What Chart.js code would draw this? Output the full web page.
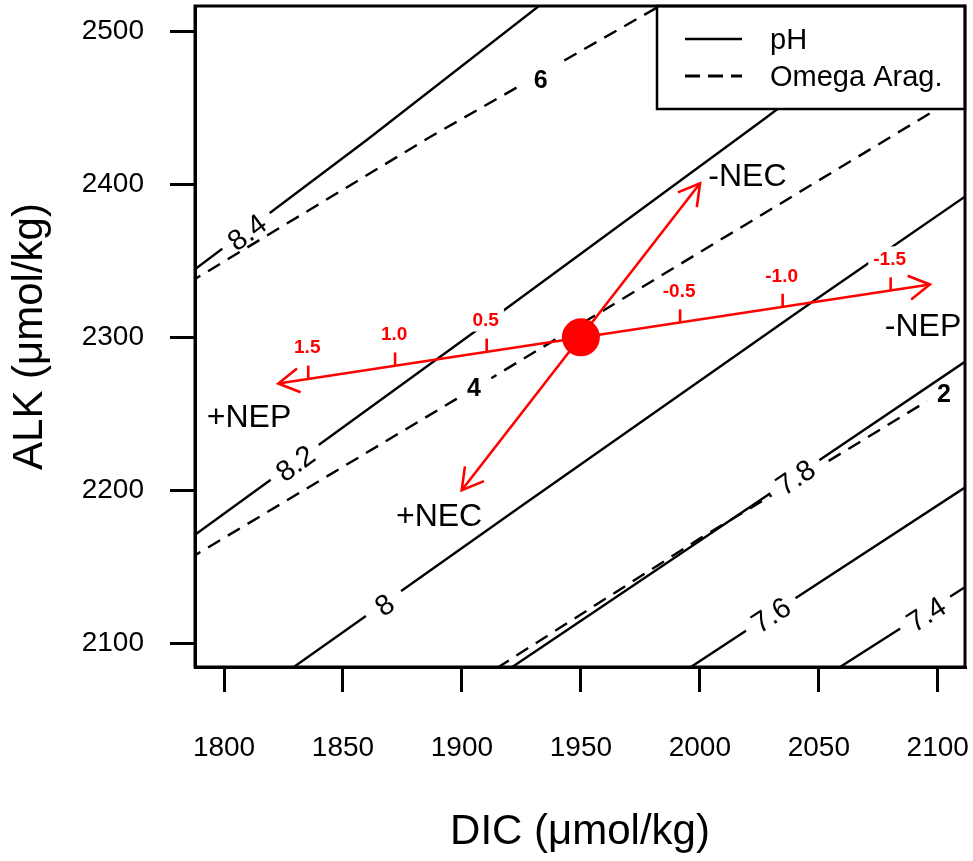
<!DOCTYPE html>
<html>
<head>
<meta charset="utf-8">
<title>DIC - ALK</title>
<script src="https://cdn.jsdelivr.net/npm/chart.js@4.4.1/dist/chart.umd.min.js"></script>
<style>
  html, body { margin: 0; padding: 0; background: #fff; }
  #box { width: 973px; height: 861px; }
</style>
</head>
<body>
<div id="box"><canvas id="chart" width="973" height="861"></canvas></div>
<script>
'use strict'

const FONT = "'Liberation Sans', Arial, sans-serif";

// 軸の範囲と目盛り
const xRange = [1787.8, 2111.45];
const yRange = [2084.3, 2516.8];
const xTicks = [1800, 1850, 1900, 1950, 2000, 2050, 2100];
const yTicks = [2100, 2200, 2300, 2400, 2500];

// pH 等値線 [DIC, ALK]
const ph84 = [[1785, 2341.2], [1860.0, 2429.1], [1935.0, 2520]];
const ph82 = [[1785, 2167.6], [1906.2, 2304.7], [2026.5, 2442.2], [2091.3, 2518]];
const ph80 = [[1825.6, 2080.2], [1924.4, 2189.0], [2046.3, 2322.2], [2111.4, 2392.0], [2116, 2397]];
const ph78 = [[1917.9, 2080.9], [2029.5, 2197.8], [2111.4, 2284.0], [2116, 2288.8]];
const ph76 = [[1992.9, 2080.9], [2040.0, 2129.1], [2111.4, 2201.7], [2116, 2206.4]];
const ph74 = [[2055.5, 2080.9], [2111.4, 2136.5], [2116, 2141]];
const phNames = ['8.4', '8.2', '8', '7.8', '7.6', '7.4'];
const phLabelPos = [[1809.5, 2369.1], [1829.8, 2218.0], [1867.3, 2125.2], [2040.0, 2208.7], [2029.8, 2118.7], [2095.0, 2119.2]];

// Omega Arag. 等値線
const om6 = [[1785, 2335.5], [1886.6, 2431.1], [1985.4, 2518.8]];
const om4 = [[1785, 2154.8], [1913.2, 2274.1], [2096.7, 2446.6], [2122, 2470.3]];
const om2 = [[1906.6, 2075.6], [2000.1, 2168.5], [2050.5, 2215.7], [2111.4, 2273.3], [2116, 2277.6]];
const omNames = ['6', '4', '2'];
const omLabelPos = [[1933.1, 2469.3], [1905.1, 2267.2], [2102.6, 2263.3]];

// NEP / NEC ベクトル
const origin = [1950, 2300];
const nepLine = [[1822.8, 2269.8], [2096.7, 2334.6]];
const necLine = [[1899.9, 2200.0], [2000.1, 2400.8]];
const nepTickDic = [1835.4, 1871.9, 1910.4, 1991.7, 2034.8, 2080.2];
const nepTickAlk = [2273.0, 2281.6, 2290.7, 2309.8, 2320.0, 2330.7];
const nepTickText = ['1.5', '1.0', '0.5', '-0.5', '-1.0', '-1.5'];
const vecNames = ['+NEP', '-NEP', '+NEC', '-NEC'];
const vecNamePos = [[1810.5, 2249.1], [2093.8, 2308.6], [1890.4, 2184.3], [2020.0, 2406.8]];

const phLines = [ph84, ph82, ph80, ph78, ph76, ph74];
const omLines = [om6, om4, om2];

function toPoints(arr) {
    return arr.map(p => ({x: p[0], y: p[1]}));
}

function contourDataset(arr, dashed) {
    return {
        data: toPoints(arr),
        showLine: true,
        borderColor: '#000',
        borderWidth: 2.4,
        borderDash: dashed ? [14, 9] : [],
        pointRadius: 0,
        clip: 0
    };
}

// 赤の点とベクトルは先頭 (最後に描かれる)
const datasets = [
    { data: toPoints([origin]), pointRadius: 19, pointBackgroundColor: '#ff0000', pointBorderWidth: 0, showLine: false },
    { data: toPoints(nepLine), showLine: true, borderColor: '#ff0000', borderWidth: 2.6, pointRadius: 0 },
    { data: toPoints(necLine), showLine: true, borderColor: '#ff0000', borderWidth: 2.6, pointRadius: 0 }
];
phLines.forEach(l => datasets.push(contourDataset(l, false)));
omLines.forEach(l => datasets.push(contourDataset(l, true)));

function pix(chart, v) {
    return [chart.scales.x.getPixelForValue(v[0]), chart.scales.y.getPixelForValue(v[1])];
}

// 等値線上の位置と傾き
function onLine(chart, line, dic) {
    for (let i = 0; i < line.length - 1; i++) {
        if (dic >= line[i][0] && dic <= line[i + 1][0]) {
            const a = pix(chart, line[i]);
            const b = pix(chart, line[i + 1]);
            const t = (dic - line[i][0]) / (line[i + 1][0] - line[i][0]);
            return { x: a[0] + (b[0] - a[0]) * t, y: a[1] + (b[1] - a[1]) * t, ang: Math.atan2(b[1] - a[1], b[0] - a[0]) };
        }
    }
    return null;
}

function textAt(ctx, text, x, y, size, weight, color) {
    ctx.font = `${weight} ${size}px ${FONT}`;
    ctx.fillStyle = color;
    ctx.textAlign = 'center';
    ctx.textBaseline = 'alphabetic';
    ctx.fillText(text, x, y + size * 0.358);
}

function drawContourLabels(chart) {
    const ctx = chart.ctx;
    ctx.save();
    for (let i = 0; i < phNames.length; i++) {
        const p = pix(chart, phLabelPos[i]);
        const l = onLine(chart, phLines[i], phLabelPos[i][0]);
        ctx.save();
        ctx.translate(p[0], p[1]);
        ctx.rotate(l.ang);
        ctx.font = `29px ${FONT}`;
        const w = Math.max(ctx.measureText(phNames[i]).width + 19, 43);
        ctx.fillStyle = '#fff';
        ctx.fillRect(-w / 2, -8, w, 16);
        textAt(ctx, phNames[i], 0, 0, 29, 'normal', '#000');
        ctx.restore();
    }
    for (let i = 0; i < omNames.length; i++) {
        const p = pix(chart, omLabelPos[i]);
        const l = onLine(chart, omLines[i], omLabelPos[i][0]);
        ctx.save();
        ctx.translate(l.x, l.y);
        ctx.rotate(l.ang);
        ctx.fillStyle = '#fff';
        ctx.fillRect(-20, -6, 40, 12);
        ctx.restore();
        textAt(ctx, omNames[i], p[0], p[1], 25, 'bold', '#000');
    }
    ctx.restore();
}

function drawNepTicks(chart) {
    const ctx = chart.ctx;
    ctx.save();
    for (let i = 0; i < nepTickDic.length; i++) {
        const p = pix(chart, [nepTickDic[i], nepTickAlk[i]]);
        ctx.font = `bold 19px ${FONT}`;
        const w = ctx.measureText(nepTickText[i]).width;
        ctx.fillStyle = '#fff';
        ctx.fillRect(p[0] - 1 - w / 2 - 5, p[1] - 32 - 12, w + 10, 24);
        textAt(ctx, nepTickText[i], p[0] - 1, p[1] - 32, 19, 'bold', '#ff0000');
    }
    ctx.restore();
}

function arrowHead(ctx, from, to) {
    const ang = Math.atan2(to[1] - from[1], to[0] - from[0]);
    const len = 24;
    const spread = Math.PI / 6;
    ctx.beginPath();
    ctx.moveTo(to[0] - len * Math.cos(ang - spread), to[1] - len * Math.sin(ang - spread));
    ctx.lineTo(to[0], to[1]);
    ctx.lineTo(to[0] - len * Math.cos(ang + spread), to[1] - len * Math.sin(ang + spread));
    ctx.stroke();
}

function drawArrows(chart) {
    const ctx = chart.ctx;
    ctx.save();
    ctx.strokeStyle = '#ff0000';
    ctx.lineWidth = 2.6;
    ctx.lineCap = 'butt';
    [nepLine, necLine].forEach(line => {
        const a = pix(chart, line[0]);
        const b = pix(chart, line[1]);
        arrowHead(ctx, b, a);
        arrowHead(ctx, a, b);
    });
    for (let i = 0; i < nepTickDic.length; i++) {
        const p = pix(chart, [nepTickDic[i], nepTickAlk[i]]);
        ctx.beginPath();
        ctx.moveTo(p[0], p[1]);
        ctx.lineTo(p[0], p[1] - 13);
        ctx.stroke();
    }
    ctx.restore();
}

function drawVecNames(chart) {
    const ctx = chart.ctx;
    ctx.save();
    for (let i = 0; i < vecNames.length; i++) {
        const p = pix(chart, vecNamePos[i]);
        textAt(ctx, vecNames[i], p[0], p[1], 32, 'normal', '#000');
    }
    ctx.restore();
}

function drawLegendBox(chart) {
    const ctx = chart.ctx;
    const area = chart.chartArea;
    const left = area.right - 308;
    const top = area.top;
    ctx.save();
    ctx.fillStyle = '#fff';
    ctx.fillRect(left, top, 308, 103);
    ctx.strokeStyle = '#000';
    ctx.lineWidth = 2.5;
    ctx.strokeRect(left, top, 308, 103);
    ctx.lineWidth = 2.5;
    ctx.beginPath();
    ctx.moveTo(left + 28, top + 33);
    ctx.lineTo(left + 85, top + 33);
    ctx.stroke();
    ctx.lineWidth = 3;
    ctx.setLineDash([15, 8]);
    ctx.beginPath();
    ctx.moveTo(left + 28, top + 70);
    ctx.lineTo(left + 85, top + 70);
    ctx.stroke();
    ctx.setLineDash([]);
    ctx.font = `29px ${FONT}`;
    ctx.fillStyle = '#000';
    ctx.textAlign = 'left';
    ctx.textBaseline = 'alphabetic';
    ctx.fillText('pH', left + 113, top + 33 + 29 * 0.358);
    ctx.fillText('Omega Arag.', left + 113, top + 70 + 29 * 0.358);
    ctx.restore();
}

function drawFrame(chart) {
    const ctx = chart.ctx;
    const a = chart.chartArea;
    ctx.save();
    ctx.strokeStyle = '#000';
    ctx.lineWidth = 3;
    ctx.strokeRect(a.left, a.top, a.right - a.left, a.bottom - a.top);
    ctx.restore();
}

const overlay = {
    id: 'overlay',
    afterDatasetDraw(chart, args) {
        // 等値線を全部描いた直後にラベルを置く
        if (args.index !== 3) return;
        drawContourLabels(chart);
        drawNepTicks(chart);
    },
    afterDatasetsDraw(chart) {
        drawArrows(chart);
        drawVecNames(chart);
        drawLegendBox(chart);
        drawFrame(chart);
    }
};

function noPadding(scale) {
    scale.paddingTop = 0;
    scale.paddingBottom = 0;
    scale.paddingLeft = 0;
    scale.paddingRight = 0;
}

const ctx = document.getElementById('chart');
const myChart = new Chart(ctx, {
    type: 'scatter',
    data: { datasets: datasets },
    options: {
        responsive: false,
        animation: false,
        events: [],
        layout: { autoPadding: false, padding: { top: 6, right: 8, left: 0, bottom: 0 } },
        plugins: { legend: { display: false }, tooltip: { enabled: false } },
        scales: {
            x: {
                type: 'linear',
                min: xRange[0],
                max: xRange[1],
                afterBuildTicks: s => { s.ticks = xTicks.map(v => ({ value: v })); },
                afterFit: s => { s.height = 194; noPadding(s); },
                grid: { drawOnChartArea: false, drawTicks: true, tickLength: 25, lineWidth: 3, color: '#000' },
                border: { display: true, width: 3, color: '#000' },
                ticks: { padding: 39, color: '#000', autoSkip: false, maxRotation: 0, font: { family: FONT, size: 28 }, callback: v => String(v) },
                title: { display: true, text: 'DIC (μmol/kg)', color: '#000', font: { family: FONT, size: 42 }, padding: { top: 0, bottom: 3 } }
            },
            y: {
                type: 'linear',
                min: yRange[0],
                max: yRange[1],
                afterBuildTicks: s => { s.ticks = yTicks.map(v => ({ value: v })); },
                afterFit: s => { s.width = 195; noPadding(s); },
                grid: { drawOnChartArea: false, drawTicks: true, tickLength: 25, lineWidth: 3, color: '#000' },
                border: { display: true, width: 3, color: '#000' },
                ticks: { padding: 26, color: '#000', autoSkip: false, font: { family: FONT, size: 28 }, callback: v => String(v) },
                title: { display: true, text: 'ALK (μmol/kg)', color: '#000', font: { family: FONT, size: 42 }, padding: { top: 5, bottom: 0 } }
            }
        }
    },
    plugins: [overlay]
});
</script>
</body>
</html>
